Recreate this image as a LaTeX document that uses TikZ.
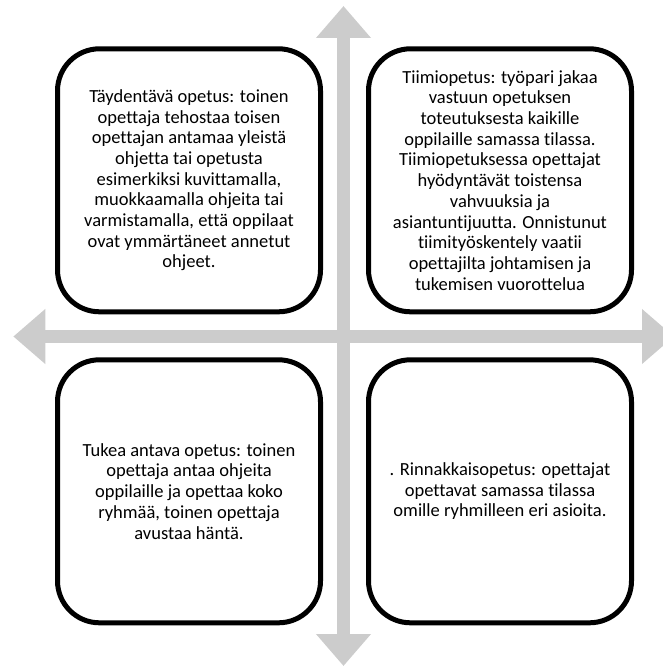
\documentclass[tikz,border=0pt]{standalone}
\usepackage{fontspec}
\setmainfont[Ligatures=NoCommon]{Carlito}
\usetikzlibrary{positioning,arrows.meta}
\definecolor{axisgray}{RGB}{204,204,204}
\begin{document}
\begin{tikzpicture}[
                x=1pt, y=-1pt,
                node distance=43pt,
                axis/.style={axisgray, line width=13pt,
                    {Triangle[length=32pt,width=53pt]}-{Triangle[length=32pt,width=53pt]}},
                quadbox/.style={draw, fill=white, line width=5pt, rounded corners=42pt,
                    minimum width=263pt, minimum height=263pt, align=center,
                    font=\fontsize{18.5}{20.7}\selectfont}
                ]
                \clip (0,0) rectangle (663,666);
                % axis cross
                \coordinate (west) at (13.3,336.5);
                \coordinate (east) at (674,336.5);
                \coordinate (north) at (343.5,6);
                \coordinate (south) at (343.5,666);
                \draw[axis] (west) -- (east);
                \draw[axis] (north) -- (south);
                % four quadrants
                \node[quadbox] (tl) at (189,180.3) {Täydentävä opetus: toinen\\opettaja tehostaa toisen\\opettajan antamaa yleistä\\ohjetta tai opetusta\\esimerkiksi kuvittamalla,\\muokkaamalla ohjeita tai\\varmistamalla, että oppilaat\\ovat ymmärtäneet annetut\\ohjeet.};
                \node[quadbox, right=of tl] (tr) {Tiimiopetus: työpari jakaa\\vastuun opetuksen\\toteutuksesta kaikille\\oppilaille samassa tilassa.\\Tiimiopetuksessa opettajat\\hyödyntävät toistensa\\vahvuuksia ja\\asiantuntijuutta. Onnistunut\\tiimityöskentely vaatii\\opettajilta johtamisen ja\\tukemisen vuorottelua};
                \node[quadbox, below=of tl] (bl) {Tukea antava opetus: toinen\\opettaja antaa ohjeita\\oppilaille ja opettaa koko\\ryhmää, toinen opettaja\\avustaa häntä.};
                \node[quadbox, below=of tr] (br) {. Rinnakkaisopetus: opettajat\\opettavat samassa tilassa\\omille ryhmilleen eri asioita.};
            \end{tikzpicture}
\end{document}
